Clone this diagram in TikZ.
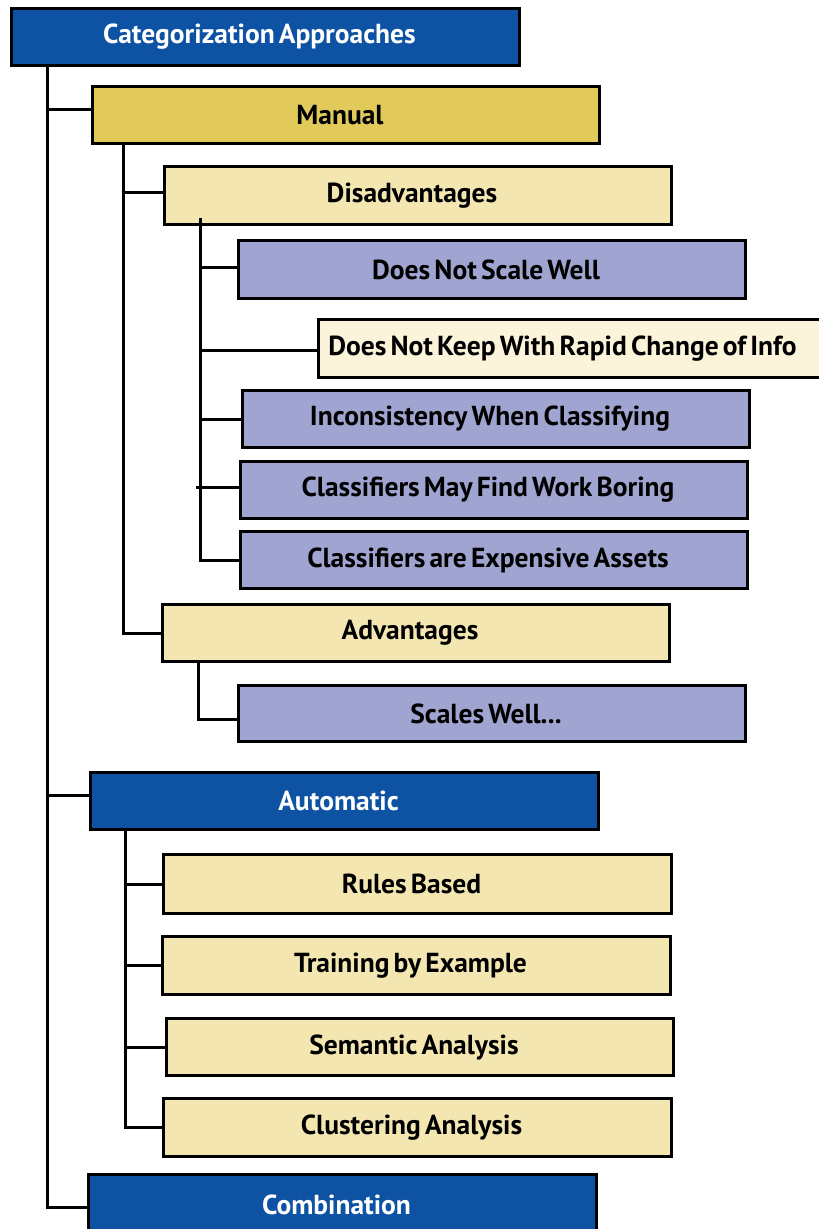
\documentclass[tikz,border=0pt]{standalone}
\usepackage{fontspec}
\setmainfont{PT Sans}[WordSpace=0.6]
\definecolor{cblue}{HTML}{0E52A3}
\definecolor{cgold}{HTML}{E1C95A}
\definecolor{ccream}{HTML}{F3E6B1}
\definecolor{cpale}{HTML}{FBF4DA}
\definecolor{cpurple}{HTML}{A0A4D0}
\begin{document}
\begin{tikzpicture}[x=1pt,y=-1pt,
  box/.style={draw=black, line width=3pt, anchor=north west, inner sep=0pt,
    minimum width=507pt, minimum height=57pt,
    font=\bfseries\fontsize{27.5}{31}\selectfont,
    execute at end node={\hspace*{12pt}}},
  bluebox/.style={box, fill=cblue, text=white},
  goldbox/.style={box, fill=cgold},
  creambox/.style={box, fill=ccream},
  purplebox/.style={box, fill=cpurple},
  palebox/.style={box, fill=cpale},
  conn/.style={draw=black, line width=3pt}]
\useasboundingbox (0,0) rectangle (819,1229);
\fill[white] (0,0) rectangle (819,1229);

% nodes
\node[bluebox, minimum width=508pt] (root) at (10,7) {Categorization Approaches};
\node[goldbox] (manual) at (91,85) {Manual};
\node[creambox, minimum height=58pt] (dis) at (163,165) {Disadvantages};
\node[purplebox, minimum height=58pt] (d1) at (237,239) {Does Not Scale Well};
\node[palebox, minimum height=58pt, minimum width=526pt, execute at end node={\hspace*{26pt}}] (d2) at (317,318) {Does Not Keep With Rapid Change of Info};
\node[purplebox] (d3) at (241,389) {Inconsistency When Classifying};
\node[purplebox] (d4) at (239,460) {Classifiers May Find Work Boring};
\node[purplebox] (d5) at (239,530) {Classifiers are Expensive Assets};
\node[creambox] (adv) at (161,603) {Advantages};
\node[purplebox, minimum height=56pt] (a1) at (237,684) {Scales Well...};
\node[bluebox, minimum width=508pt] (auto) at (89,771) {Automatic};
\node[creambox, minimum width=508pt, minimum height=59pt] (r1) at (162,853) {Rules Based};
\node[creambox, minimum width=508pt, minimum height=58pt] (r2) at (161,935) {Training by Example};
\node[creambox] (r3) at (165,1017) {Semantic Analysis};
\node[creambox, minimum width=508pt, minimum height=58pt] (r4) at (162,1097) {Clustering Analysis};
\node[bluebox, minimum width=508pt, minimum height=60pt] (comb) at (87,1173) {Combination};

% trunk coordinates
\coordinate (t0) at (47,64);
\coordinate (t1) at (123,142);
\coordinate (t2) at (200,218);
\coordinate (t3) at (198,660);
\coordinate (t4) at (125,828);
\coordinate (s4) at (196,487);

% connectors
\draw[conn] (t0) |- ([yshift=6pt]manual.west);
\draw[conn] (t0) |- ([yshift=6pt]auto.west);
\draw[conn] (t0) |- ([yshift=-3pt]comb.west);

\draw[conn] (t1) |- ([yshift=3pt]dis.west);
\draw[conn] (t1) |- (adv.west);

\draw[conn] (t2) |- ([yshift=2pt]d1.west);
\draw[conn] (t2) |- ([yshift=-2pt]d2.west);
\draw[conn] (t2) |- (d3.west);
\draw[conn] (t2) |- (d5.west);
\draw[conn] (s4) -- (s4 -| d4.west);

\draw[conn] (t3) |- ([yshift=-6pt]a1.west);

\draw[conn] (t4) |- (r1.west);
\draw[conn] (t4) |- (r2.west);
\draw[conn] (t4) |- (r3.west);
\draw[conn] (t4) |- (r4.west);
\end{tikzpicture}
\end{document}
